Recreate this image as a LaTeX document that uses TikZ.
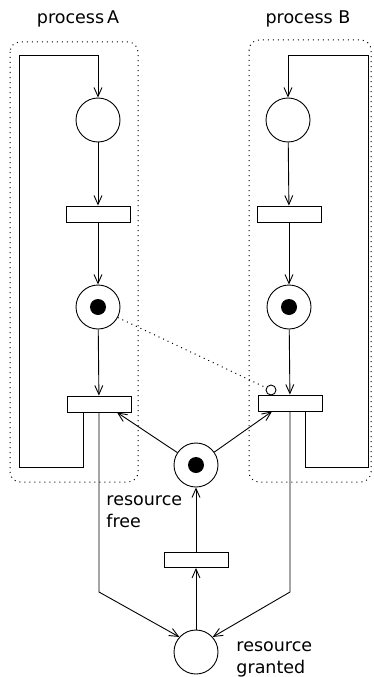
\documentclass[tikz,border=0pt]{standalone}
\usepackage{fontspec}
\setmainfont{DejaVu Sans}
\usetikzlibrary{arrows.meta}
\begin{document}
\begin{tikzpicture}[x=1pt,y=-1pt,
  line width=0.9pt,
  place/.style={draw,circle,minimum size=44pt,inner sep=0pt},
  trans/.style={draw,rectangle,minimum width=64pt,minimum height=16pt,inner sep=0pt},
  inhib/.style={draw,circle,minimum size=10pt,inner sep=0pt},
  arc/.style={-{Straight Barb[length=9pt,width=8pt]}},
  procbox/.style={draw,rounded corners=10pt,line width=1pt,dash pattern=on 1pt off 4pt},
  lbl/.style={font=\fontsize{17.5}{22}\selectfont,inner sep=0pt,align=left},
  token/.style={fill=black,circle,minimum size=16pt,inner sep=0pt}]
\useasboundingbox (0,0) rectangle (374,677);

% process boxes
\draw[procbox] (10,42) rectangle (138,482);
\draw[procbox] (249,40) rectangle (371,482);
\node[lbl] (labA) at (78,19) {process\,A};
\node[lbl] (labB) at (308,19) {process B};

% process A
\node[place] (pA1) at (98,120) {};
\node[trans] (tA1) at (98,214) {};
\node[place] (pA2) at (98,307) {};
\node[token] (kA) at (pA2) {};
\node[trans] (tA2) at (99,404) {};

% process B
\node[place] (pB1) at (288,120) {};
\node[trans] (tB1) at (289,214) {};
\node[place] (pB2) at (289,307) {};
\node[token] (kB) at (pB2) {};
\node[trans] (tB2) at (290,403) {};
\node[inhib] (inh) at (271,390) {};

% resource
\node[place] (rf) at (196,465) {};
\node[token] (kR) at (rf) {};
\node[trans,minimum height=15pt] (t3) at (196,560) {};
\node[place] (rg) at (196,652) {};
\node[lbl,anchor=north west] (lfree) at (106,495) {resource\\free};
\node[lbl,anchor=north west] (lgrant) at (236,641) {resource\\granted};

% corner coordinates
\coordinate (a1) at (83,467);
\coordinate (a2) at (19,467);
\coordinate (a3) at (19,55);
\coordinate (b1) at (305,467);
\coordinate (b2) at (368,467);
\coordinate (b3) at (368,55);
\coordinate (oA) at (99,592);
\coordinate (oB) at (290,592);

% process A arcs
\draw[arc] ([xshift=-16pt]tA2.south) -- (a1) -- (a2) -- (a3) -| (pA1.north);
\draw[arc] (pA1) -- (tA1);
\draw[arc] (tA1) -- (pA2);
\draw[arc] (pA2) -- (tA2);

% process B arcs
\draw[arc] ([xshift=15pt]tB2.south) -- (b1) -- (b2) -- (b3) -| (pB1.north);
\draw[arc] (pB1) -- (tB1);
\draw[arc] (tB1) -- (pB2);
\draw[arc] (pB2) -- (tB2);

% inhibitor (dotted)
\draw[line width=1pt,dash pattern=on 1pt off 4pt] (pA2.-28) -- (inh);

% resource arcs
\draw[arc] (rf) -- ([xshift=18pt]tA2.south);
\draw[arc] (rf) -- ([xshift=-18pt]tB2.south);
\draw[arc] (t3) -- (rf);
\draw[arc] (rg) -- (t3);
\draw[arc] (tA2.south) -- (oA) -- (rg.138);
\draw[arc] (tB2.south) -- (oB) -- (rg.42);
\end{tikzpicture}
\end{document}
